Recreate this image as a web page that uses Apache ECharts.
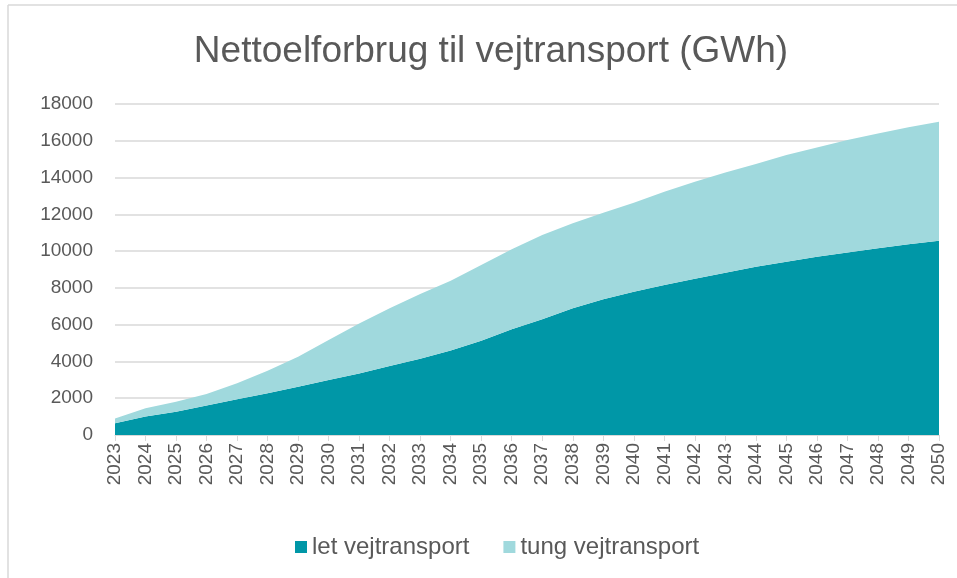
<!DOCTYPE html>
<html>
<head>
<meta charset="utf-8">
<script src="https://cdn.jsdelivr.net/npm/echarts@6/dist/echarts.min.js"></script>
<style>
  html, body { margin: 0; padding: 0; background: #fff; }
  #chart { width: 957px; height: 578px; }
</style>
</head>
<body>
<div id="chart"></div>
<script>
const years = ['2023','2024','2025','2026','2027','2028','2029','2030','2031','2032','2033','2034','2035','2036',
  '2037','2038','2039','2040','2041','2042','2043','2044','2045','2046','2047','2048','2049','2050'];
const letVej = [640, 1000, 1270, 1600, 1940, 2270, 2630, 2990, 3350, 3750, 4150, 4590, 5130, 5750,
  6290, 6890, 7380, 7790, 8160, 8500, 8830, 9150, 9420, 9700, 9930, 10150, 10370, 10570];
const tungVej = [260, 450, 540, 630, 870, 1230, 1630, 2180, 2720, 3140, 3520, 3800, 4110, 4350,
  4590, 4620, 4710, 4840, 5070, 5270, 5440, 5590, 5810, 5940, 6110, 6250, 6360, 6470];

const chart = echarts.init(document.getElementById('chart'));
const txt = '#595959';
const font = 'Liberation Sans, Arial, sans-serif';

const option = {
  animation: false,
  textStyle: { fontFamily: font },
  title: {
    text: 'Nettoelforbrug til vejtransport (GWh)',
    left: 486, top: 28, textAlign: 'center',
    textStyle: { fontSize: 37, fontWeight: 'normal', color: txt, fontFamily: font }
  },
  legend: {
    left: 290, top: 530, itemWidth: 12, itemHeight: 12, itemGap: 34,
    icon: 'rect',
    textStyle: { fontSize: 24, color: txt, fontFamily: font },
    data: ['let vejtransport', 'tung vejtransport']
  },
  grid: { left: 115, right: 18, top: 104, bottom: 143, containLabel: false },
  xAxis: {
    type: 'category', data: years, boundaryGap: false,
    axisLine: { lineStyle: { color: '#d9d9d9', width: 1 } },
    axisTick: { show: true, length: 6, interval: 0, lineStyle: { color: '#d9d9d9' } },
    axisLabel: { interval: 0, rotate: 90, fontSize: 19, color: txt, margin: 8 }
  },
  yAxis: {
    type: 'value', min: 0, max: 18000, interval: 2000,
    axisLine: { show: false }, axisTick: { show: false },
    axisLabel: { fontSize: 19, color: txt, margin: 22, formatter: v => String(v) },
    splitLine: { lineStyle: { color: '#d9d9d9', width: 1.5 } }
  },
  series: [
    {
      name: 'let vejtransport', type: 'line', stack: 'total', data: letVej,
      symbol: 'none', lineStyle: { width: 0 }, itemStyle: { color: '#0097a7' },
      areaStyle: { color: '#0097a7', opacity: 1 }
    },
    {
      name: 'tung vejtransport', type: 'line', stack: 'total', data: tungVej,
      symbol: 'none', lineStyle: { width: 0 }, itemStyle: { color: '#a0d9dd' },
      areaStyle: { color: '#a0d9dd', opacity: 1 }
    }
  ],
  graphic: [
    { type: 'line', shape: { x1: 8, y1: 5, x2: 957, y2: 5 }, style: { stroke: '#d9d9d9', lineWidth: 1.5 } },
    { type: 'line', shape: { x1: 8, y1: 5, x2: 8, y2: 578 }, style: { stroke: '#d9d9d9', lineWidth: 1.5 } }
  ]
};
chart.setOption(option);
</script>
</body>
</html>
